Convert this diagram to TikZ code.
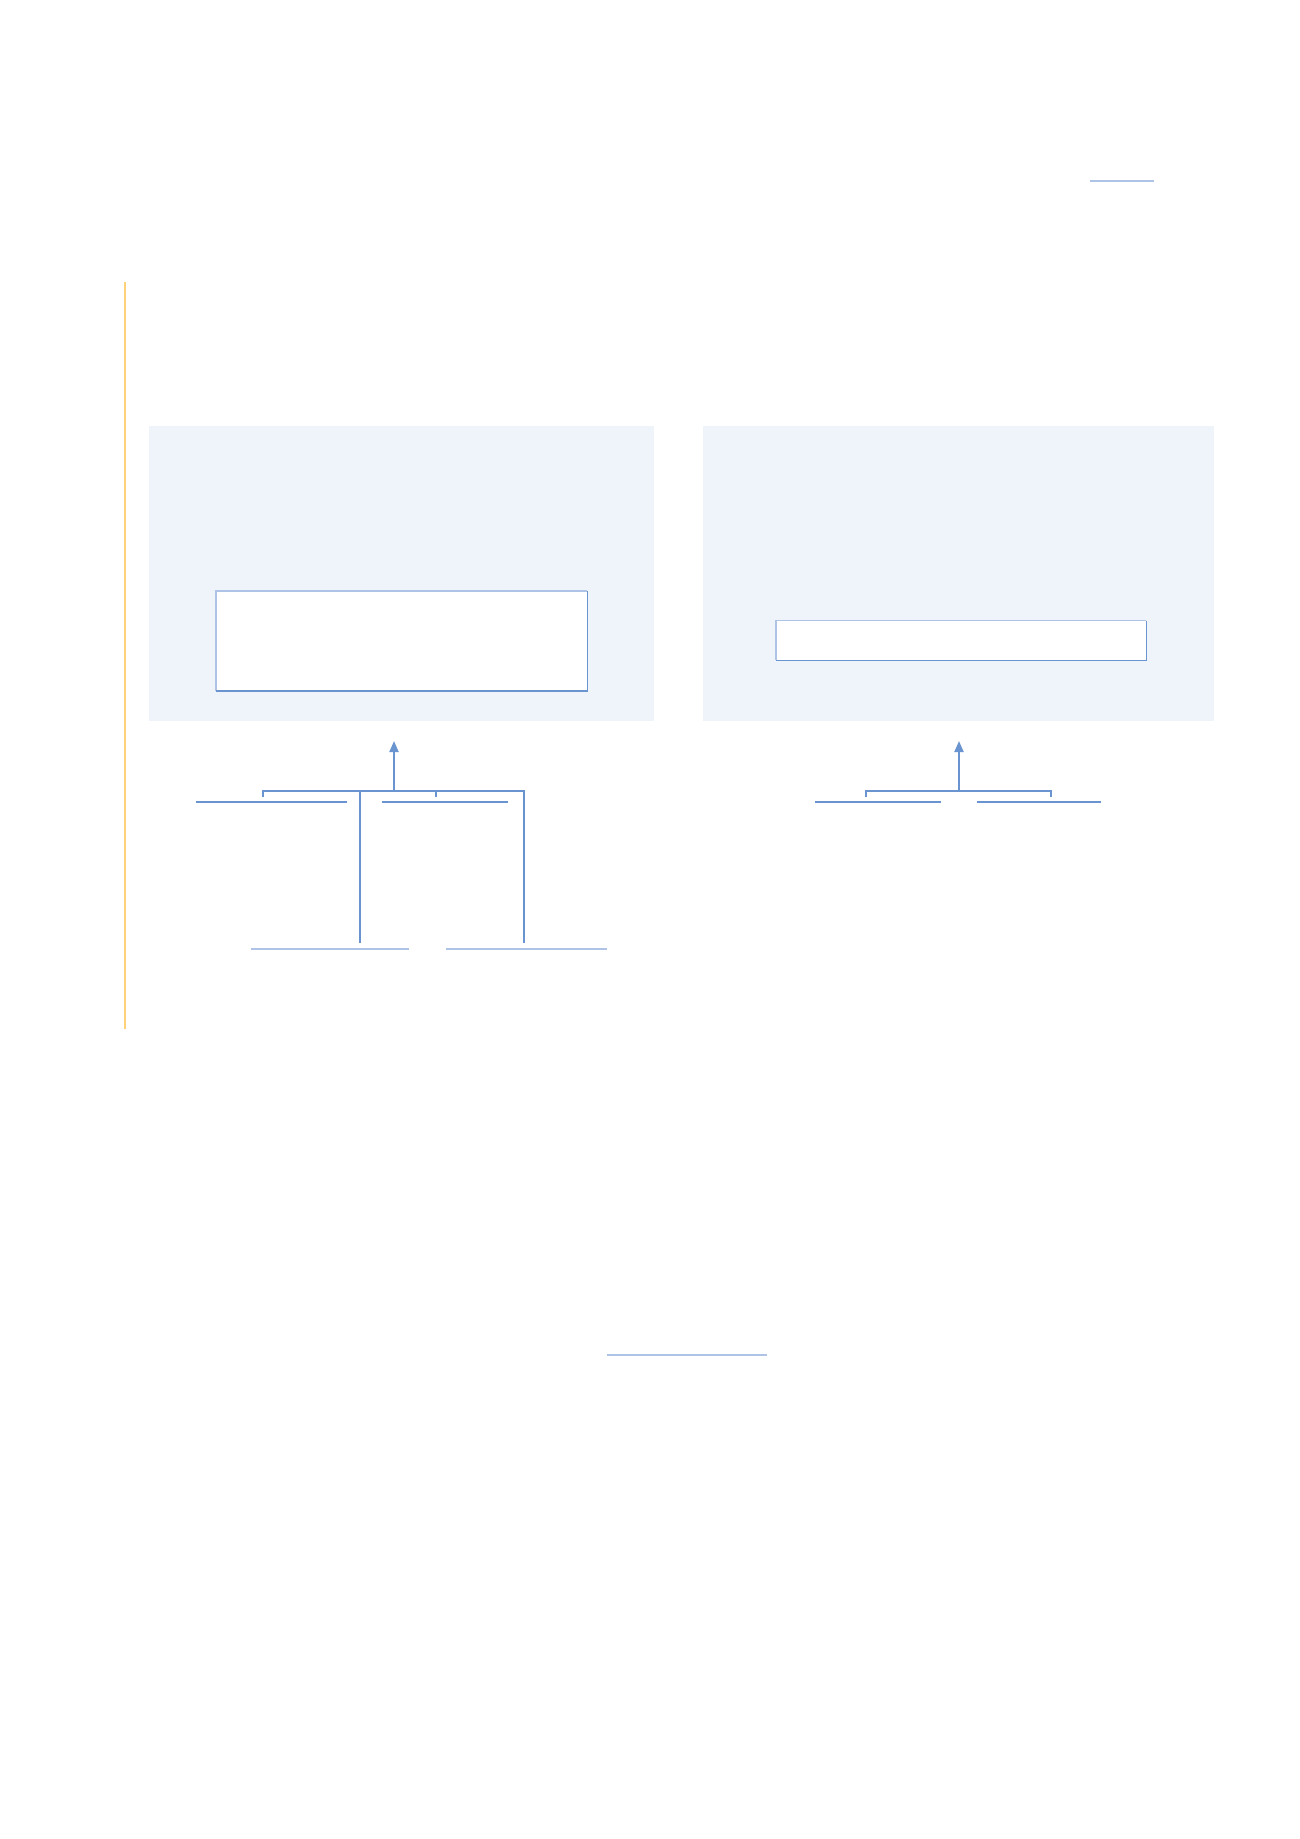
\documentclass[tikz,border=0pt]{standalone}
\usetikzlibrary{arrows.meta}
\definecolor{panelfill}{HTML}{EFF3FA}
\definecolor{linkblue}{HTML}{6A94D0}
\definecolor{paleblue}{HTML}{AEC3E6}
\definecolor{accent}{HTML}{FFD27A}
\tikzset{
  panel/.style={fill=panelfill, draw=none, inner sep=0, anchor=north west},
  innerbox/.style={fill=white, draw=none, inner sep=0, anchor=north west},
  uline/.style={inner sep=0, minimum height=0, anchor=south west},
  conn/.style={draw=linkblue, line width=2pt},
  arrowconn/.style={conn, -{Triangle[width=9pt,length=11pt]}},
  thinul/.style={draw=linkblue, line width=1.2pt},
  paleul/.style={draw=paleblue, line width=2pt},
}
\begin{document}
\begin{tikzpicture}[x=1pt,y=-1pt]
\useasboundingbox[fill=white] (0,0) rectangle (1300,1839);

% page top link underline
\node[uline, minimum width=64pt] (toplink) at (1090,180.5) {};
\draw[paleul] (toplink.south west) -- (toplink.south east);

% orange accent bar
\coordinate (acctop) at (125,282);
\coordinate (accbot) at (125,1029);
\draw[accent, line width=2pt] (acctop) -- (accbot);

% panels
\node[panel, minimum width=505pt, minimum height=295pt] (lpanel) at (149,426) {};
\node[panel, minimum width=511pt, minimum height=295pt] (rpanel) at (703,426) {};

% inner boxes
\node[innerbox, minimum width=371pt, minimum height=99.5pt] (lbox) at (216,591) {};
\draw[paleblue, line width=1.3pt] (lbox.south west) -- (lbox.north west) -- (lbox.north east);
\draw[linkblue, line width=1.3pt] (lbox.north east) -- (lbox.south east) -- (lbox.south west);
\node[innerbox, minimum width=370pt, minimum height=39.5pt] (rbox) at (776,620.5) {};
\draw[paleblue, line width=1.3pt] (rbox.south west) -- (rbox.north west) -- (rbox.north east);
\draw[linkblue, line width=1.3pt] (rbox.north east) -- (rbox.south east) -- (rbox.south west);

% left label underlines
\node[uline, minimum width=151pt] (la) at (196,802) {};
\node[uline, minimum width=126pt] (lb) at (382,802) {};
\node[uline, minimum width=158pt] (lc) at (251,948.7) {};
\node[uline, minimum width=161pt] (ld) at (446,948.7) {};
\draw[thinul] (la.south west) -- (la.south east);
\draw[thinul] (lb.south west) -- (lb.south east);
\draw[paleul] (lc.south west) -- (lc.south east);
\draw[paleul] (ld.south west) -- (ld.south east);

% right label underlines
\node[uline, minimum width=126pt] (ra) at (815,802) {};
\node[uline, minimum width=124pt] (rb) at (977,802) {};
\draw[thinul] (ra.south west) -- (ra.south east);
\draw[thinul] (rb.south west) -- (rb.south east);

% left connector
\coordinate (lbarL) at (263,790.7);
\coordinate (lbarR) at (524,790.7);
\coordinate (ljoin) at (394,790.7);
\coordinate (ltip) at (394,741);
\coordinate (ltick) at (436,790.7);
\coordinate (lmid) at (359.7,790.7);
\draw[conn] (263,797) -- (lbarL) -- (lbarR) -- (524,943);
\draw[conn] (ltick) -- (436,797);
\draw[conn] (lmid) -- (359.7,943);
\draw[arrowconn] (ljoin) -- (ltip);

% right connector
\coordinate (rbarL) at (866,790.7);
\coordinate (rbarR) at (1050.7,790.7);
\coordinate (rjoin) at (959,790.7);
\coordinate (rtip) at (959,741);
\draw[conn] (866,797) -- (rbarL) -- (rbarR) -- (1050.7,797);
\draw[arrowconn] (rjoin) -- (rtip);

% bottom link underline
\node[uline, minimum width=160pt] (botlink) at (607,1355.3) {};
\draw[paleul] (botlink.south west) -- (botlink.south east);
\end{tikzpicture}
\end{document}
